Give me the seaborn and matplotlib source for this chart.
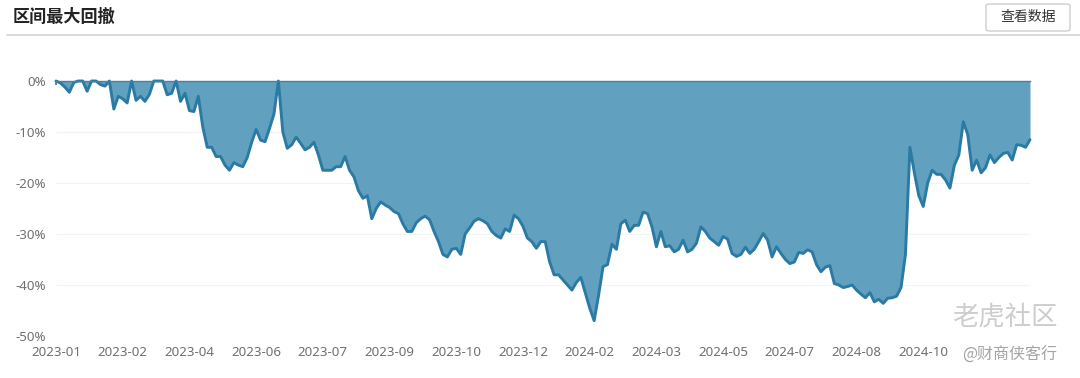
import numpy as np
import pandas as pd
import matplotlib
matplotlib.use("Agg")
import matplotlib.pyplot as plt
import seaborn as sns
from matplotlib.patches import FancyBboxPatch

# ---------------- data ----------------
title = "区间最大回撤"
button_text = "查看数据"
tick_labels = ["2023-01", "2023-02", "2023-04", "2023-06", "2023-07", "2023-09",
               "2023-10", "2023-12", "2024-02", "2024-03", "2024-05", "2024-07",
               "2024-08", "2024-10"]
y_ticks = [0, -10, -20, -30, -40, -50]

seg_2023_01 = [0, -0.4, -1.2, -2.2, -0.3, 0, 0, -2.0, 0, 0, -0.7, -1.0, 0, -5.5, -3.0]
seg_2023_02 = [-3.5, -4.3, 0, -3.8, -3.0, -4.0, -2.6, 0, 0, 0, -2.7, -2.4, 0, -4.0, -2.4]
seg_2023_04 = [-5.8, -6.0, -3.0, -9.0, -13.0, -13.0, -14.8, -14.8, -16.5, -17.5, -16.0, -16.5, -16.8, -15.0, -12.0]
seg_2023_06 = [-9.5, -11.6, -11.9, -9.3, -6.5, 0, -10.0, -13.2, -12.5, -11.0, -12.2, -13.5, -13.0, -12.0, -14.5]
seg_2023_07 = [-17.5, -17.5, -17.5, -16.8, -16.8, -14.8, -17.5, -18.8, -21.5, -23.0, -22.5, -27.0, -25.0, -23.7, -24.3]
seg_2023_09 = [-24.8, -25.6, -26.0, -28.0, -29.5, -29.5, -27.8, -27.0, -26.5, -27.2, -29.5, -31.5, -34.0, -34.5, -33.0]
seg_2023_10 = [-32.8, -34.0, -30.0, -28.8, -27.5, -27.0, -27.4, -28.0, -29.5, -30.3, -30.8, -29.0, -29.5, -26.3, -27.0]
seg_2023_12 = [-28.5, -30.8, -31.5, -32.8, -31.5, -31.5, -35.5, -38.0, -38.0, -39.0, -40.0, -41.0, -39.5, -38.5, -41.5]
seg_2024_02 = [-44.5, -47.0, -42.0, -36.4, -36.0, -32.0, -33.0, -28.0, -27.3, -29.5, -28.3, -28.3, -25.7, -26.0, -28.6]
seg_2024_03 = [-32.5, -29.5, -32.5, -32.3, -33.5, -33.0, -31.2, -33.5, -33.0, -31.8, -28.6, -29.5, -30.8, -31.5, -32.2]
seg_2024_05 = [-30.5, -31.0, -33.8, -34.4, -34.0, -32.6, -33.8, -33.0, -31.5, -29.9, -31.2, -34.5, -32.5, -33.8, -35.0]
seg_2024_07 = [-35.8, -35.5, -33.6, -33.8, -33.1, -33.5, -36.0, -37.4, -36.5, -36.2, -39.7, -40.0, -40.5, -40.3, -40.0]
seg_2024_08 = [-41.0, -41.8, -42.5, -41.5, -43.3, -42.8, -43.6, -42.6, -42.5, -42.2, -40.5, -34.0, -13.0, -18.0, -22.5]
seg_2024_10 = [-24.6, -20.0, -17.5, -18.3, -18.3, -19.4, -21.0, -16.5, -14.5, -8.0, -10.5, -17.5, -15.5, -18.0, -17.0]
seg_2024_11 = [-14.5, -16.0, -15.0, -14.2, -14.0, -15.5, -12.5, -12.6, -13.0, -11.5]

drawdown = (seg_2023_01 + seg_2023_02 + seg_2023_04 + seg_2023_06 + seg_2023_07 +
            seg_2023_09 + seg_2023_10 + seg_2023_12 + seg_2024_02 + seg_2024_03 +
            seg_2024_05 + seg_2024_07 + seg_2024_08 + seg_2024_10 + seg_2024_11)
points_per_label = 15

watermark = "老虎社区"
credit = "@财商侠客行"

# ---------------- style ----------------
sns.set_theme(style="white")
plt.rcParams["font.family"] = ["Noto Sans", "Noto Sans CJK SC", "DejaVu Sans"]

W, H = 1080, 378
fig = plt.figure(figsize=(W / 100, H / 100), dpi=100)
fig.patch.set_facecolor("white")

fill_color = "#62a0c0"
line_color = "#2a7aa4"

df = pd.DataFrame({"idx": np.arange(len(drawdown)), "dd": drawdown})

ax = fig.add_axes([56 / W, 1 - 336 / H, (1030 - 56) / W, (336 - 81) / H])
ax.fill_between(df["idx"], df["dd"], 0, color=fill_color, lw=0, zorder=2)
sns.lineplot(data=df, x="idx", y="dd", ax=ax, color=line_color, lw=2.1, zorder=3)
for ln in ax.lines:
    ln.set_clip_on(False)
    ln.set_solid_joinstyle("round")
    ln.set_solid_capstyle("round")

ax.set_xlim(0, len(drawdown) - 1)
ax.set_ylim(-50, 0)
ax.set_yticks(y_ticks)
ax.set_yticklabels([f"{v}%" for v in y_ticks])
ax.set_xticks(np.arange(len(tick_labels)) * points_per_label)
ax.set_xticklabels(tick_labels)
ax.set_xlabel("")
ax.set_ylabel("")

for s in ["left", "right", "bottom"]:
    ax.spines[s].set_visible(False)
ax.spines["top"].set_visible(True)
ax.spines["top"].set_color("#4d7f99")
ax.spines["top"].set_linewidth(1.0)
ax.spines["top"].set_zorder(4)

ax.tick_params(axis="x", which="both", top=True, bottom=False, labeltop=False,
               labelbottom=True, direction="in", length=3, color="#4d7f99",
               labelsize=9.6, labelcolor="#707070", pad=7)
ax.tick_params(axis="y", length=0, labelsize=9.6, labelcolor="#707070", pad=7)

ax.grid(axis="y", color="#f3f3f3", lw=0.8, zorder=0)
ax.grid(axis="x", visible=False)
ax.set_axisbelow(True)

# ---------------- header ----------------
fig.text(13 / W, 1 - 17 / H, title, fontsize=12.3, fontweight="bold",
         color="#222222", va="center", ha="left",
         family=["Noto Sans CJK SC", "DejaVu Sans"])
fig.add_artist(plt.Line2D([7 / W, 1.0], [1 - 35 / H, 1 - 35 / H],
                          color="#d6d6d6", lw=1.2))
btn = FancyBboxPatch((986 / W, 1 - 31 / H), 84 / W, 27 / H,
                     boxstyle="round,pad=0,rounding_size=0.004",
                     transform=fig.transFigure, facecolor="white",
                     edgecolor="#cfcfcf", lw=1.0)
fig.add_artist(btn)
fig.text(1028 / W, 1 - 17.5 / H, button_text, fontsize=10, color="#333333",
         va="center", ha="center", family=["Noto Sans CJK SC", "DejaVu Sans"])

# ---------------- watermark ----------------
fig.text(1005 / W, 1 - 317 / H, watermark, fontsize=19, color="#c8c8c8",
         va="center", ha="center", alpha=0.9,
         family=["Noto Sans CJK SC", "DejaVu Sans"])
fig.text(1010 / W, 1 - 355 / H, credit, fontsize=11.5, color="#9a9a9a",
         va="center", ha="center", alpha=0.9,
         family=["Noto Sans CJK SC", "DejaVu Sans"])

fig.savefig("out.png", dpi=100, facecolor="white")
